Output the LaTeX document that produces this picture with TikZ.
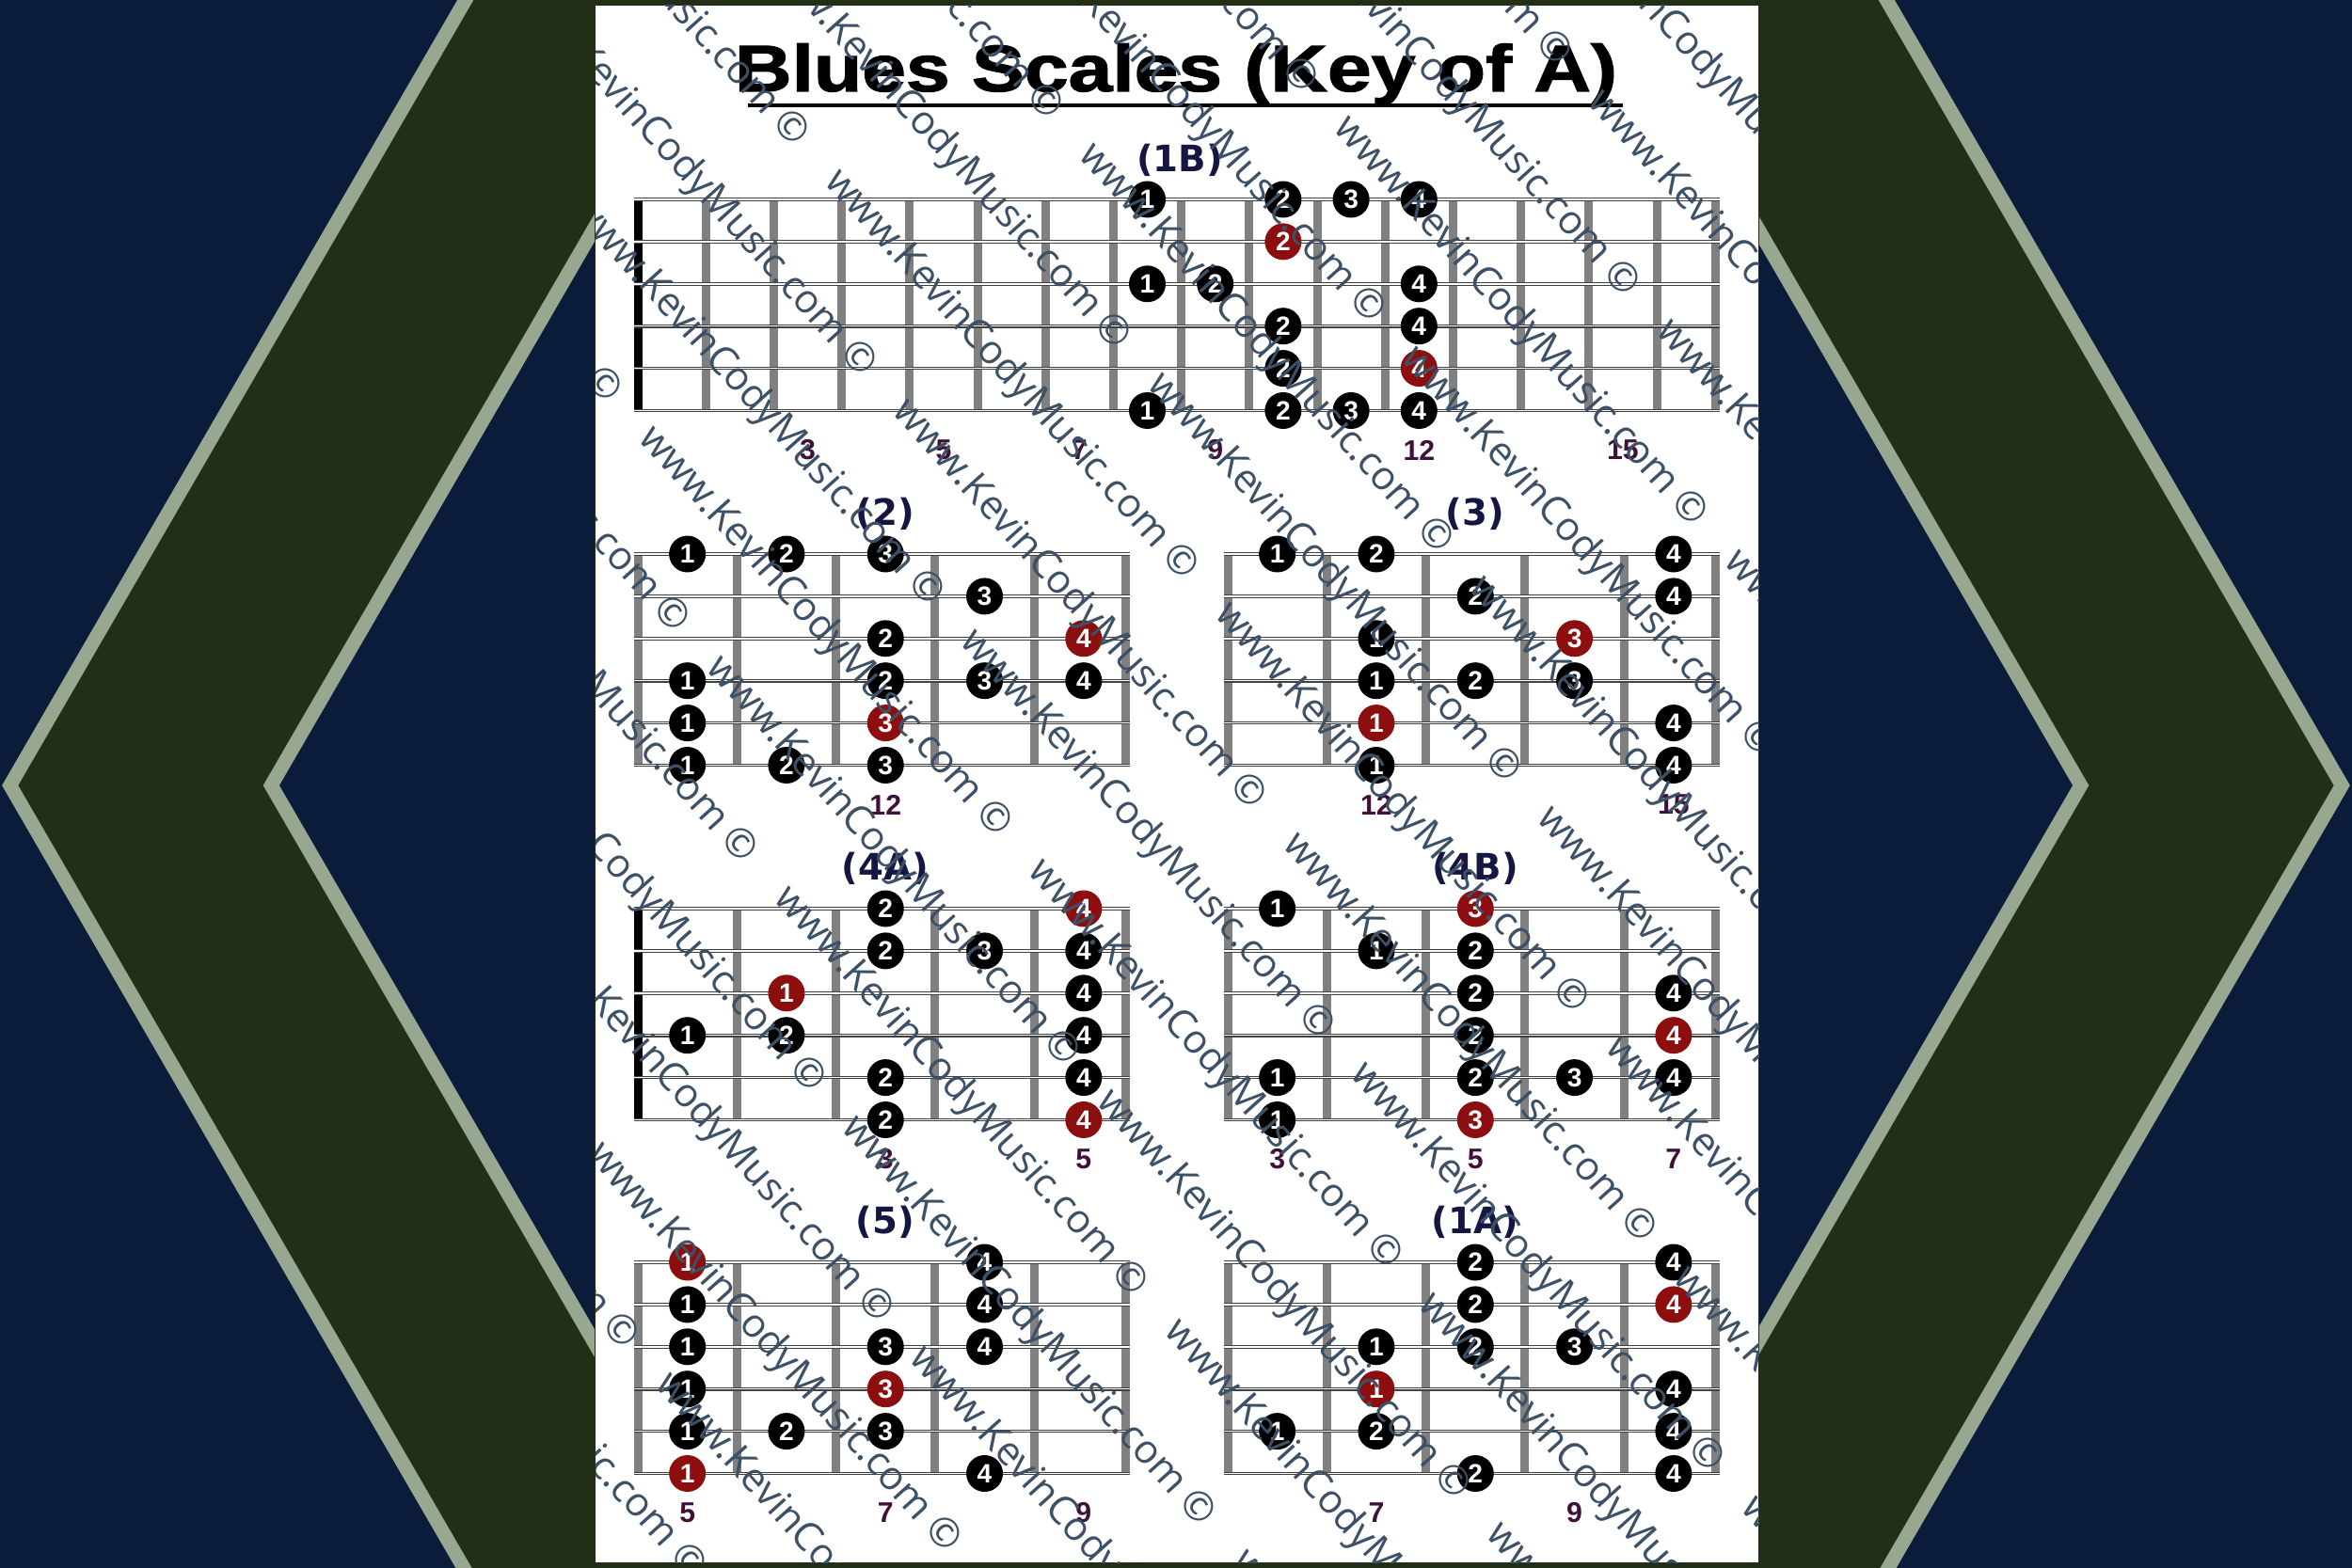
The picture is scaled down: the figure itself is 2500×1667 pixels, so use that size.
\documentclass[tikz,border=0pt]{standalone}
\usepackage{fontspec}
\setmainfont{Liberation Sans}
\newfontfamily\headfont[BoldFeatures={FakeBold=1.6}]{Liberation Sans}
\newfontfamily\capfont{DejaVu Sans}
\newfontfamily\wmfont{Open Sans}

\definecolor{navybg}{RGB}{10,28,58}
\definecolor{bandgreen}{RGB}{34,46,22}
\definecolor{bandedge}{RGB}{152,168,144}
\definecolor{fretgray}{RGB}{128,128,128}
\definecolor{root}{RGB}{140,14,14}
\colorlet{ink}{black}
\definecolor{titlenavy}{RGB}{22,22,66}
\definecolor{numpurple}{RGB}{64,16,56}
\definecolor{markslate}{RGB}{60,80,102}

\newlength{\unitpx}
\setlength{\unitpx}{0.01cm}

% #1 left bar x, #2 top string y, #3 fret width, #4 frets, #5 right bar offset, #6 left bar colour
\newcommand{\fretboard}[6]{%
  \foreach \k in {1,...,#4}
    \draw[fret] ({#1+\k*#3},#2) -- ({#1+\k*#3},{#2+224.5});
  \draw[fret] ({#1+#5},#2) -- ({#1+#5},{#2+224.5});
  \draw[fret,draw=#6] (#1,#2) -- (#1,{#2+224.5});
  \foreach \s in {0,...,5}
    \draw[gstring] ({#1-4.5},{#2+\s*44.9}) -- ({#1+#5+4.5},{#2+\s*44.9});
}
\newcommand{\fingers}[5]{%
  \foreach \s/\c/\f/\col in {#5}
    \node[fingerdot,fill=\col] (#1-\s-\c) at ({#2+(\c-0.5)*#4},{#3+(\s-1)*44.9}) {\f};
}
\newcommand{\fretnums}[5]{%
  \foreach \c/\t in {#5}
    \node[fretnum] (#1-fr\t) at ({#2+(\c-0.5)*#4},{#3+266.5}) {\t};
}

\begin{document}
\begin{tikzpicture}[x=0.01cm,y=-0.01cm,
 fret/.style={draw=fretgray,line width=9\unitpx},
 gstring/.style={draw=black!75,line width=1.1\unitpx,double=white,double distance=1.5\unitpx},
 fingerdot/.style={circle,inner sep=0pt,minimum size=39\unitpx,text=white,
   font=\bfseries\fontsize{8}{9}\selectfont},
 fretnum/.style={text=numpurple,font=\bfseries\fontsize{8.6}{10}\selectfont},
 boxtitle/.style={text=titlenavy,font=\capfont\bfseries\fontsize{11}{13}\selectfont},
 headline/.style={font=\headfont\bfseries\fontsize{19.9}{22}\selectfont,xscale=1.2,inner sep=0pt},
 wmtext/.style={text=markslate,font=\wmfont\fontsize{12}{14}\selectfont,rotate=-48,inner sep=0pt}]
\useasboundingbox (0,0) rectangle (2500,1667);
\clip (0,0) rectangle (2500,1667);
\fill[navybg] (0,0) rectangle (2500,1667);
\foreach \tip/\back in {149.5/691.5, 2350.5/1808.5}{
  \draw[bandedge,line width=255\unitpx,miter limit=4] (\back,-100) -- (\tip,835) -- (\back,1770);
  \draw[bandgreen,line width=225\unitpx,miter limit=4] (\back,-100) -- (\tip,835) -- (\back,1770);}
\fill[bandgreen] (632,0) rectangle (1870,1667);
\fill[white] (633,6) rectangle (1869,1661);

\node[headline,anchor=base] (title) at (1250,97) {Blues Scales (Key of A)};
\draw[line width=4\unitpx] (795,112) -- (1725,112);

\fretboard{678}{212}{72.2}{15}{1145}{black}
\fretboard{678}{589}{105.3}{4}{518}{fretgray}
\fretboard{1305}{589}{105.3}{4}{518}{fretgray}
\fretboard{678}{966}{105.3}{4}{518}{black}
\fretboard{1305}{966}{105.3}{4}{518}{fretgray}
\fretboard{678}{1342}{105.3}{4}{518}{fretgray}
\fretboard{1305}{1342}{105.3}{4}{518}{fretgray}

\node[boxtitle] (t1B) at (1254,170) {(1B)};
\node[boxtitle] (t2) at (941,546) {(2)};
\node[boxtitle] (t3) at (1568,546) {(3)};
\node[boxtitle] (t4A) at (941,923) {(4A)};
\node[boxtitle] (t4B) at (1568,923) {(4B)};
\node[boxtitle] (t5) at (941,1299) {(5)};
\node[boxtitle] (t1A) at (1568,1299) {(1A)};

\fingers{b1B}{678}{212}{72.2}{1/8/1/ink,1/10/2/ink,1/11/3/ink,1/12/4/ink,
  2/10/2/root,3/8/1/ink,3/9/2/ink,3/12/4/ink,4/10/2/ink,4/12/4/ink,
  5/10/2/ink,5/12/4/root,6/8/1/ink,6/10/2/ink,6/11/3/ink,6/12/4/ink}
\fretnums{b1B}{678}{212}{72.2}{3/3,5/5,7/7,9/9,12/12,15/15}

\fingers{b2}{678}{589}{105.3}{1/1/1/ink,1/2/2/ink,1/3/3/ink,2/4/3/ink,
  3/3/2/ink,3/5/4/root,4/1/1/ink,4/3/2/ink,4/4/3/ink,4/5/4/ink,
  5/1/1/ink,5/3/3/root,6/1/1/ink,6/2/2/ink,6/3/3/ink}
\fretnums{b2}{678}{589}{105.3}{3/12}

\fingers{b3}{1305}{589}{105.3}{1/1/1/ink,1/2/2/ink,1/5/4/ink,2/3/2/ink,2/5/4/ink,
  3/2/1/ink,3/4/3/root,4/2/1/ink,4/3/2/ink,4/4/3/ink,
  5/2/1/root,5/5/4/ink,6/2/1/ink,6/5/4/ink}
\fretnums{b3}{1305}{589}{105.3}{2/12,5/15}

\fingers{b4A}{678}{966}{105.3}{1/3/2/ink,1/5/4/root,2/3/2/ink,2/4/3/ink,2/5/4/ink,
  3/2/1/root,3/5/4/ink,4/1/1/ink,4/2/2/ink,4/5/4/ink,
  5/3/2/ink,5/5/4/ink,6/3/2/ink,6/5/4/root}
\fretnums{b4A}{678}{966}{105.3}{3/3,5/5}

\fingers{b4B}{1305}{966}{105.3}{1/1/1/ink,1/3/3/root,2/2/1/ink,2/3/2/ink,
  3/3/2/ink,3/5/4/ink,4/3/2/ink,4/5/4/root,
  5/1/1/ink,5/3/2/ink,5/4/3/ink,5/5/4/ink,6/1/1/ink,6/3/3/root}
\fretnums{b4B}{1305}{966}{105.3}{1/3,3/5,5/7}

\fingers{b5}{678}{1342}{105.3}{1/1/1/root,1/4/4/ink,2/1/1/ink,2/4/4/ink,
  3/1/1/ink,3/3/3/ink,3/4/4/ink,4/1/1/ink,4/3/3/root,
  5/1/1/ink,5/2/2/ink,5/3/3/ink,6/1/1/root,6/4/4/ink}
\fretnums{b5}{678}{1342}{105.3}{1/5,3/7,5/9}

\fingers{b1A}{1305}{1342}{105.3}{1/3/2/ink,1/5/4/ink,2/3/2/ink,2/5/4/root,
  3/2/1/ink,3/3/2/ink,3/4/3/ink,4/2/1/root,4/5/4/ink,
  5/1/1/ink,5/2/2/ink,5/5/4/ink,6/3/2/ink,6/5/4/ink}
\fretnums{b1A}{1305}{1342}{105.3}{2/7,4/9}

\begin{scope}
\clip (633,6) rectangle (1869,1661);
\foreach \v [count=\j] in {-1150,-1040,...,1150}
  \foreach \u [count=\i] in {-1500,-880,...,1500}
    \node[wmtext] (wm-\j-\i) at ({1250+(\u+mod(\j*230,620))*0.669-\v*0.743},{833+(\u+mod(\j*230,620))*0.743+\v*0.669}) {www.KevinCodyMusic.com ©};
\end{scope}
\end{tikzpicture}
\end{document}
